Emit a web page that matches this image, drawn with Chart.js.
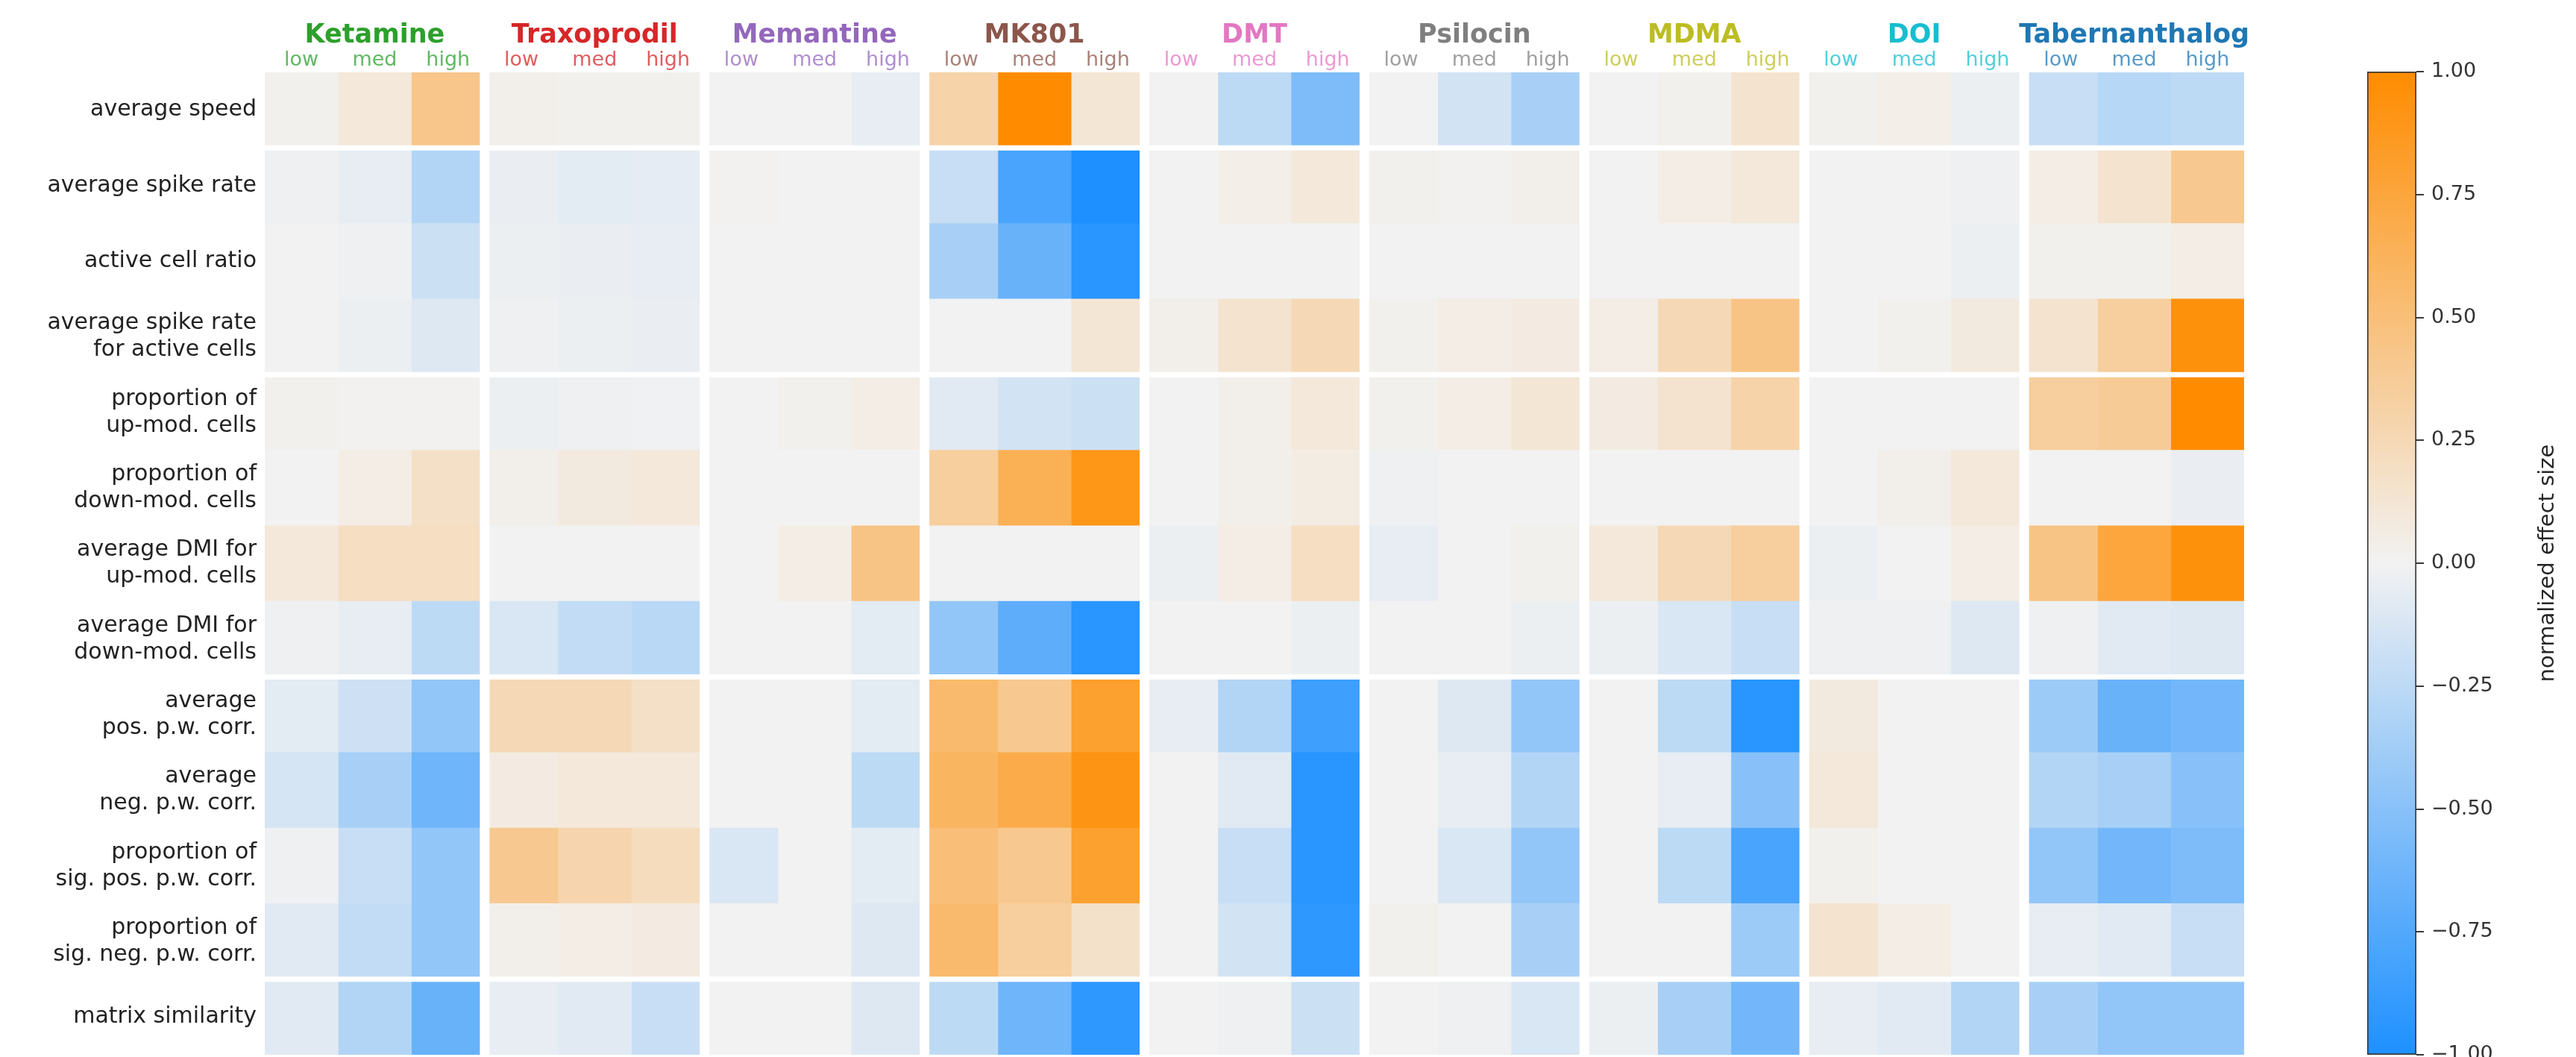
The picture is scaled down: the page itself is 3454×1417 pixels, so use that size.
<!DOCTYPE html>
<html>
<head>
<meta charset="utf-8">
<script src="https://cdn.jsdelivr.net/npm/chart.js@4.4.1/dist/chart.umd.min.js"></script>
<style>
  html, body { margin: 0; padding: 0; background: #ffffff; }
  #wrap { position: relative; width: 3454px; height: 1417px; overflow: hidden; background: #ffffff; }
  #heat { position: absolute; left: 0; top: 0; }
  #cbar { position: absolute; left: 3100px; top: 0; }
</style>
</head>
<body>
<div id="wrap">
  <canvas id="heat" width="3454" height="1417"></canvas>
  <canvas id="cbar" width="354" height="1417"></canvas>
</div>
<script>
// ---- data -----------------------------------------------------------------
const drugs = ['Ketamine', 'Traxoprodil', 'Memantine', 'MK801', 'DMT',
               'Psilocin', 'MDMA', 'DOI', 'Tabernanthalog'];
const doses = ['low', 'med', 'high'];
const drugColors = ['#2ca02c', '#d62728', '#9467bd', '#8c564b', '#e377c2',
                    '#7f7f7f', '#bcbd22', '#17becf', '#1f77b4'];
const metrics = [
  'average speed',
  'average spike rate',
  'active cell ratio',
  ['average spike rate', 'for active cells'],
  ['proportion of', 'up-mod. cells'],
  ['proportion of', 'down-mod. cells'],
  ['average DMI for', 'up-mod. cells'],
  ['average DMI for', 'down-mod. cells'],
  ['average', 'pos. p.w. corr.'],
  ['average', 'neg. p.w. corr.'],
  ['proportion of', 'sig. pos. p.w. corr.'],
  ['proportion of', 'sig. neg. p.w. corr.'],
  'matrix similarity'
];
// metric rows after which a white separator is drawn
const rowBreaks = [0, 3, 7, 11];
const cbarTicks = [-1, -0.75, -0.5, -0.25, 0, 0.25, 0.5, 0.75, 1];

// normalized effect size per metric row, [low, med, high]
const ketamine = [
  [0.02, 0.10, 0.43], [-0.02, -0.05, -0.30], [0.00, -0.02, -0.18], [0.00, -0.03, -0.10],
  [0.02, 0.01, 0.01], [0.00, 0.05, 0.18], [0.10, 0.20, 0.20], [-0.02, -0.05, -0.25],
  [-0.07, -0.17, -0.45], [-0.13, -0.35, -0.62], [-0.02, -0.20, -0.45], [-0.08, -0.22, -0.45],
  [-0.08, -0.30, -0.65]
];
const traxoprodil = [
  [0.03, 0.02, 0.02], [-0.04, -0.07, -0.06], [-0.03, -0.04, -0.05], [-0.02, -0.03, -0.04],
  [-0.03, -0.02, -0.01], [0.03, 0.08, 0.10], [0.00, 0.00, 0.00], [-0.12, -0.22, -0.27],
  [0.25, 0.25, 0.18], [0.07, 0.10, 0.10], [0.40, 0.28, 0.22], [0.03, 0.05, 0.07],
  [-0.05, -0.08, -0.20]
];
const memantine = [
  [0.00, 0.00, -0.05], [0.01, 0.00, 0.00], [0.00, 0.00, 0.00], [0.00, 0.00, 0.00],
  [0.00, 0.02, 0.05], [0.00, 0.00, 0.00], [0.00, 0.05, 0.45], [0.00, 0.00, -0.07],
  [0.00, 0.00, -0.07], [0.00, 0.00, -0.25], [-0.12, 0.00, -0.07], [0.00, 0.00, -0.10],
  [0.00, 0.00, -0.10]
];
const mk801 = [
  [0.30, 1.00, 0.12], [-0.20, -0.80, -1.00], [-0.35, -0.65, -0.95], [0.00, 0.00, 0.12],
  [-0.08, -0.15, -0.18], [0.35, 0.65, 0.90], [0.00, 0.00, 0.00], [-0.45, -0.70, -0.95],
  [0.55, 0.40, 0.80], [0.60, 0.70, 0.92], [0.50, 0.40, 0.80], [0.55, 0.35, 0.17],
  [-0.25, -0.62, -0.92]
];
const dmt = [
  [0.00, -0.25, -0.55], [0.00, 0.04, 0.10], [0.00, 0.00, 0.00], [0.03, 0.15, 0.25],
  [0.00, 0.03, 0.10], [0.00, 0.03, 0.06], [-0.03, 0.05, 0.20], [0.00, 0.00, -0.03],
  [-0.05, -0.30, -0.85], [0.00, -0.08, -0.95], [0.00, -0.20, -0.95], [0.00, -0.15, -0.92],
  [0.00, -0.02, -0.18]
];
const psilocin = [
  [0.00, -0.15, -0.35], [0.02, 0.01, 0.03], [0.00, 0.00, 0.00], [0.02, 0.05, 0.07],
  [0.02, 0.05, 0.12], [-0.02, 0.00, 0.00], [-0.05, 0.00, 0.02], [0.00, 0.00, -0.03],
  [0.00, -0.10, -0.45], [0.00, -0.05, -0.30], [0.00, -0.12, -0.45], [0.02, 0.00, -0.35],
  [0.00, -0.02, -0.12]
];
const mdma = [
  [0.00, 0.02, 0.15], [0.00, 0.05, 0.10], [0.00, 0.00, 0.00], [0.05, 0.25, 0.45],
  [0.07, 0.15, 0.30], [0.00, 0.00, 0.00], [0.10, 0.25, 0.35], [-0.03, -0.12, -0.20],
  [0.00, -0.25, -0.95], [0.00, -0.05, -0.50], [0.00, -0.25, -0.80], [0.00, 0.00, -0.40],
  [-0.03, -0.35, -0.60]
];
const doi = [
  [0.02, 0.04, -0.03], [0.00, 0.00, -0.02], [0.00, 0.00, -0.03], [0.00, 0.02, 0.08],
  [0.00, 0.00, 0.00], [0.00, 0.03, 0.10], [-0.03, 0.00, 0.05], [-0.02, -0.02, -0.10],
  [0.08, 0.00, 0.00], [0.10, 0.00, 0.00], [0.02, 0.00, 0.00], [0.15, 0.05, 0.00],
  [-0.05, -0.08, -0.30]
];
const tabernanthalog = [
  [-0.20, -0.28, -0.25], [0.05, 0.15, 0.40], [0.02, 0.02, 0.05], [0.15, 0.35, 0.95],
  [0.35, 0.38, 1.00], [0.00, 0.00, -0.04], [0.45, 0.75, 0.95], [-0.02, -0.08, -0.10],
  [-0.40, -0.65, -0.60], [-0.30, -0.35, -0.50], [-0.45, -0.60, -0.55], [-0.05, -0.08, -0.20],
  [-0.35, -0.45, -0.45]
];
const effects = [ketamine, traxoprodil, memantine, mk801, dmt,
                 psilocin, mdma, doi, tabernanthalog];

// ---- colour map: dodgerblue -> light grey -> darkorange -------------------
const cLow = [30, 144, 255], cMid = [242, 242, 242], cHigh = [255, 140, 0];
function colormap(v) {
  const t = Math.max(-1, Math.min(1, v));
  const b = t < 0 ? cLow : cHigh, f = Math.abs(t);
  const c = cMid.map((ch, i) => Math.round(ch + (b[i] - ch) * f));
  return `rgb(${c[0]},${c[1]},${c[2]})`;
}
function fade(hex, alpha) {
  const n = parseInt(hex.slice(1), 16);
  return `rgba(${(n >> 16) & 255},${(n >> 8) & 255},${n & 255},${alpha})`;
}
const fmtTick = v => (v < 0 ? '\u2212' : '') + Math.abs(v).toFixed(2);

Chart.defaults.font.family = "'DejaVu Sans', sans-serif";
Chart.defaults.color = '#262626';

// ---- heat map: one floating horizontal bar per cell ------------------------
const doseLabels = [];
const datasets = [];
effects.forEach((rows, g) => {
  doses.forEach((dose, k) => {
    const c = g * doses.length + k;
    doseLabels.push(dose);
    datasets.push({
      label: drugs[g] + ' ' + dose,
      data: rows.map(() => [c, c + 1]),
      backgroundColor: rows.map(r => colormap(r[k])),
      borderWidth: 0,
      grouped: false,
      barPercentage: 1,
      categoryPercentage: 1
    });
  });
});
const nCols = doseLabels.length;

const separators = {
  id: 'separators',
  afterDatasetsDraw(chart) {
    const { ctx, chartArea, scales } = chart;
    const x = scales.x, y = scales.y;
    ctx.save();
    ctx.strokeStyle = '#ffffff';
    ctx.lineWidth = 13;
    for (let g = 1; g < drugs.length; g++) {
      const px = x.getPixelForValue(g * doses.length);
      ctx.beginPath();
      ctx.moveTo(px, chartArea.top);
      ctx.lineTo(px, chartArea.bottom);
      ctx.stroke();
    }
    ctx.lineWidth = 7;
    rowBreaks.forEach(i => {
      const py = (y.getPixelForValue(i) + y.getPixelForValue(i + 1)) / 2;
      ctx.beginPath();
      ctx.moveTo(chartArea.left, py);
      ctx.lineTo(chartArea.right, py);
      ctx.stroke();
    });
    ctx.restore();
  }
};

new Chart(document.getElementById('heat'), {
  type: 'bar',
  data: { labels: metrics, datasets },
  options: {
    indexAxis: 'y',
    responsive: false,
    animation: false,
    devicePixelRatio: 1,
    layout: { autoPadding: false, padding: { left: 0, right: 445, top: 0, bottom: 3 } },
    plugins: { legend: { display: false }, tooltip: { enabled: false } },
    scales: {
      x: { type: 'linear', min: 0, max: nCols, display: false },
      y: {
        type: 'category',
        position: 'left',
        grid: { display: false, drawTicks: false },
        border: { display: false },
        ticks: { font: { size: 30, lineHeight: 1.2 }, color: '#222222', padding: 11, autoSkip: false },
        afterFit(s) { s.width = 355; s.paddingTop = 0; s.paddingBottom = 0; }
      },
      xGroup: {
        type: 'category',
        axis: 'x',
        position: 'top',
        labels: drugs,
        offset: true,
        weight: 2,
        grid: { display: false, drawTicks: false },
        border: { display: false },
        ticks: {
          font: { size: 35, weight: 'bold', lineHeight: 1 },
          color: ctx => drugColors[ctx.index],
          padding: 0, maxRotation: 0, autoSkip: false
        },
        afterFit(s) { s.height = 65; s.paddingLeft = 0; s.paddingRight = 0; }
      },
      xDose: {
        type: 'category',
        axis: 'x',
        position: 'top',
        labels: doseLabels,
        offset: true,
        weight: 1,
        grid: { display: false, drawTicks: false },
        border: { display: false },
        ticks: {
          font: { size: 27, lineHeight: 1 },
          color: ctx => fade(drugColors[Math.floor(ctx.index / doses.length)], 0.75),
          padding: 3, maxRotation: 0, autoSkip: false
        },
        afterFit(s) { s.height = 32; s.paddingLeft = 0; s.paddingRight = 0; }
      }
    }
  },
  plugins: [separators]
});

// ---- colour bar -------------------------------------------------------------
const cbarTitle = {
  id: 'cbarTitle',
  afterDraw(chart) {
    const { ctx, chartArea } = chart;
    ctx.save();
    ctx.translate(316, (chartArea.top + chartArea.bottom) / 2);
    ctx.rotate(-Math.PI / 2);
    ctx.textAlign = 'center';
    ctx.textBaseline = 'middle';
    ctx.fillStyle = '#262626';
    ctx.font = "29px 'DejaVu Sans', sans-serif";
    ctx.fillText('normalized effect size', 0, 0);
    ctx.restore();
  }
};

new Chart(document.getElementById('cbar'), {
  type: 'bar',
  data: {
    labels: [''],
    datasets: [{
      data: [[cbarTicks[0], cbarTicks[cbarTicks.length - 1]]],
      backgroundColor(ctx) {
        const area = ctx.chart.chartArea;
        if (!area) return colormap(0);
        const grad = ctx.chart.ctx.createLinearGradient(0, area.top, 0, area.bottom);
        for (let i = 0; i <= 20; i++) {
          grad.addColorStop(i / 20, colormap(1 - i / 10));
        }
        return grad;
      },
      borderColor: '#3a3a3a',
      borderWidth: 2,
      borderSkipped: false,
      barPercentage: 1,
      categoryPercentage: 1
    }]
  },
  options: {
    responsive: false,
    animation: false,
    devicePixelRatio: 1,
    layout: { autoPadding: false, padding: { left: 74, right: 0, top: 96, bottom: 3 } },
    plugins: { legend: { display: false }, tooltip: { enabled: false } },
    scales: {
      x: { display: false },
      y: {
        position: 'right',
        min: cbarTicks[0],
        max: cbarTicks[cbarTicks.length - 1],
        afterBuildTicks(s) { s.ticks = cbarTicks.map(v => ({ value: v })); },
        ticks: { callback: v => fmtTick(v), font: { size: 27 }, color: '#333333', padding: 10 },
        grid: { drawOnChartArea: false, drawTicks: true, tickLength: 10, color: '#3a3a3a', lineWidth: 2 },
        border: { display: false },
        afterFit(s) { s.width = 214; s.paddingTop = 0; s.paddingBottom = 0; }
      }
    }
  },
  plugins: [cbarTitle]
});
</script>
</body>
</html>
